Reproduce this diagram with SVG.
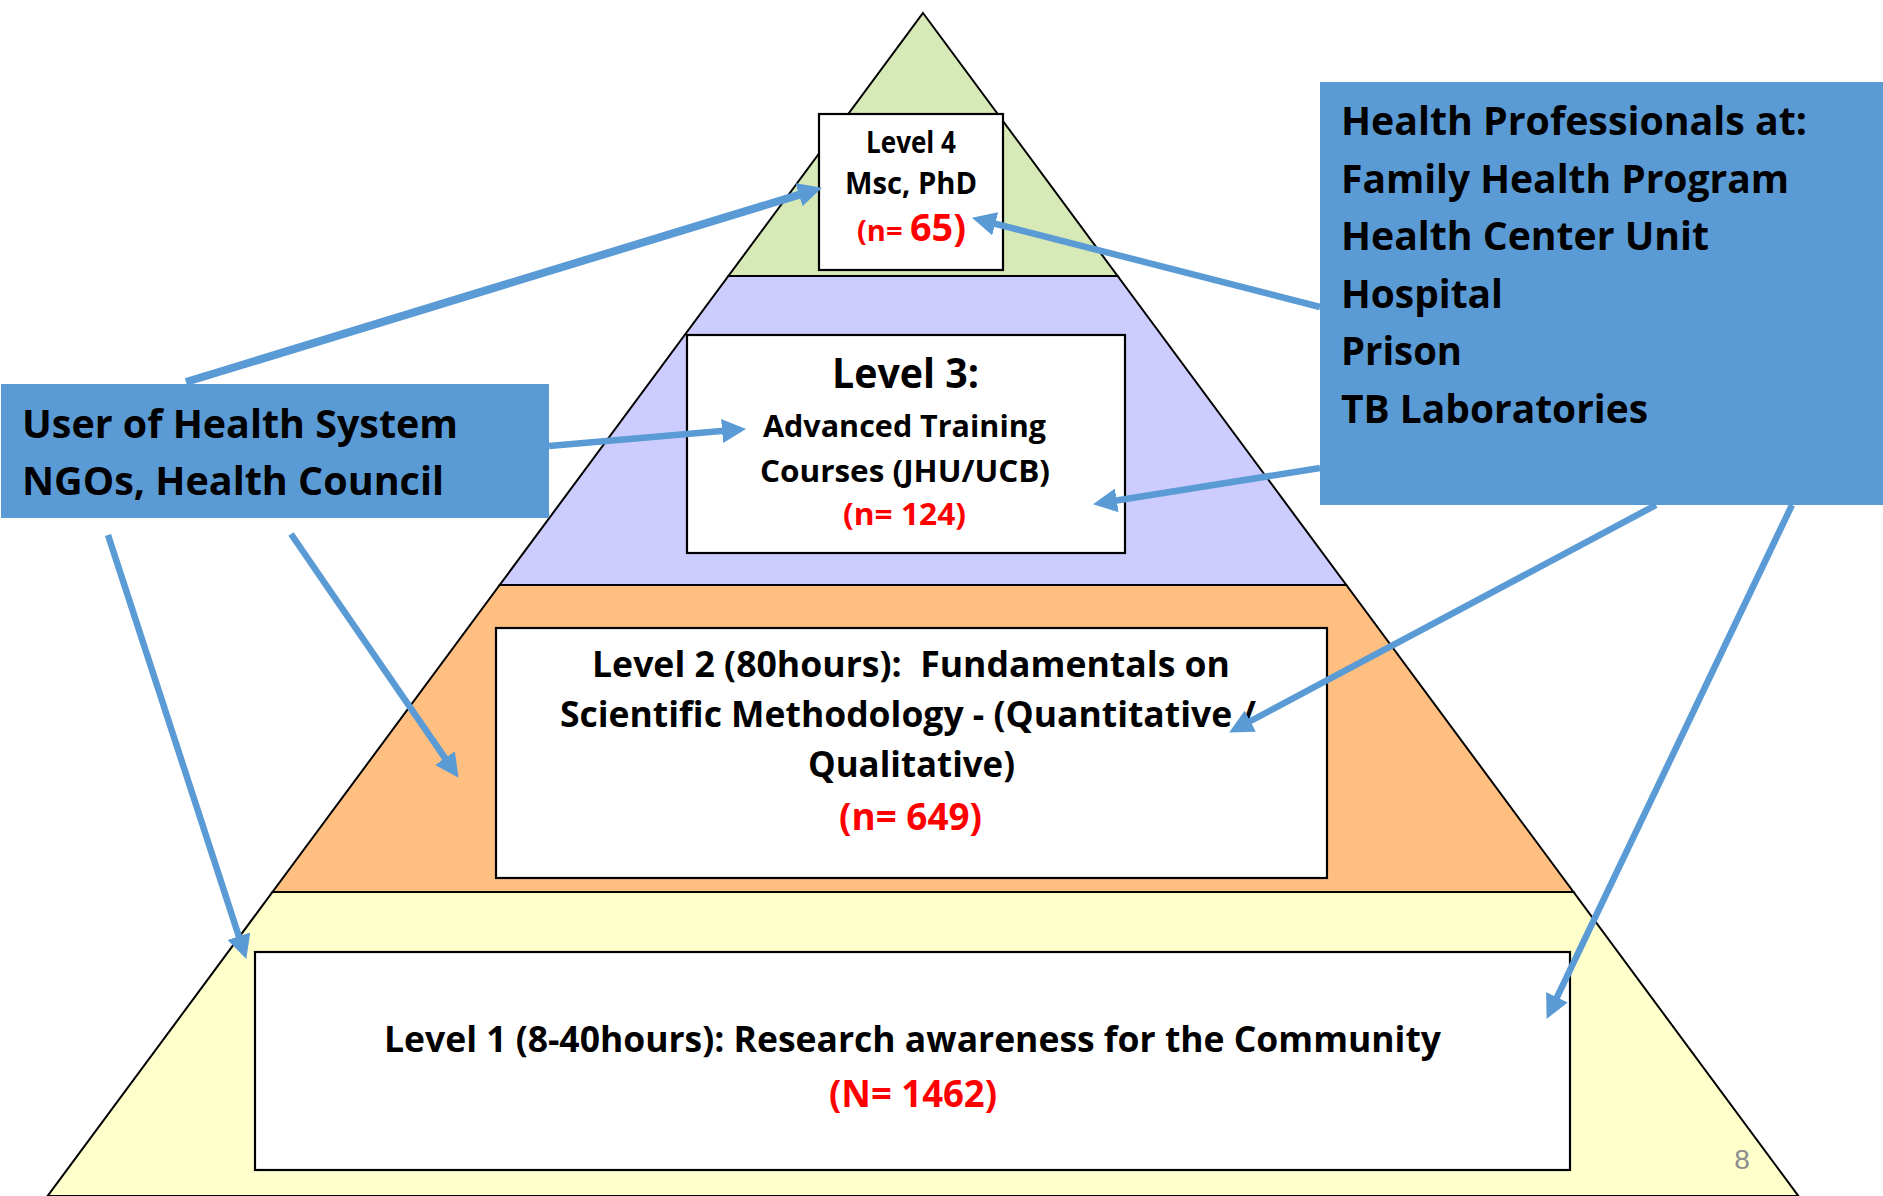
<svg xmlns="http://www.w3.org/2000/svg" width="1883" height="1196" viewBox="0 0 1883 1196">
<style>
  .band { stroke: #000; stroke-width: 2; stroke-linejoin: miter; }
  .box { fill: #fff; stroke: #000; stroke-width: 2.2; }
  .blue { fill: #5B9BD5; stroke: none; }
  .t { font-family: "Open Sans", Lato, "Liberation Sans", sans-serif; font-weight: bold; fill: #000; white-space: pre; }
  .red { fill: #FF0000; }
  .con { stroke: #5B9BD5; stroke-width: 6.5; fill: none; marker-end: url(#ah); }
  .pg { font-family: "Liberation Sans", Arial, sans-serif; fill: #8C8C8C; font-size: 28px; }
</style>
<defs>
  <marker id="ah" markerUnits="userSpaceOnUse" markerWidth="24" markerHeight="24" refX="5" refY="12" orient="auto">
    <path d="M0,0 L24,12 L0,24 z" fill="#5B9BD5"/>
  </marker>
</defs>
<rect x="0" y="0" width="1883" height="1196" fill="#fff"/>

<g id="pyramid">
  <polygon class="band" fill="#FFFFCC" points="272.5,892 1573.5,892 1798.4,1196 47.6,1196"/>
  <polygon class="band" fill="#FFBF80" points="499.7,585 1346.3,585 1573.5,892 272.5,892"/>
  <polygon class="band" fill="#CCCCFF" points="728.4,276 1117.6,276 1346.3,585 499.7,585"/>
  <polygon class="band" fill="#D7E9B6" points="923,13 1117.6,276 728.4,276"/>
</g>

<g id="level4">
  <rect class="box" x="819" y="114" width="184" height="156"/>
  <text class="t" x="866" y="153" font-size="30" textLength="90" lengthAdjust="spacingAndGlyphs">Level 4</text>
  <text class="t" x="845" y="194" font-size="31" textLength="132" lengthAdjust="spacingAndGlyphs">Msc, PhD</text>
  <text class="t red" y="241"><tspan x="857" font-size="29" textLength="53" lengthAdjust="spacingAndGlyphs">(n= </tspan><tspan x="910" font-size="37" textLength="56" lengthAdjust="spacingAndGlyphs">65)</tspan></text>
</g>

<g id="level3">
  <rect class="box" x="687" y="335" width="438" height="218"/>
  <text class="t" x="832" y="388" font-size="42" textLength="147" lengthAdjust="spacingAndGlyphs">Level 3:</text>
  <text class="t" x="763" y="437" font-size="30" textLength="283" lengthAdjust="spacingAndGlyphs">Advanced Training</text>
  <text class="t" x="760" y="482" font-size="30" textLength="290" lengthAdjust="spacingAndGlyphs">Courses (JHU/UCB)</text>
  <text class="t red" x="843" y="525" font-size="30" textLength="123" lengthAdjust="spacingAndGlyphs">(n= 124)</text>
</g>

<g id="level2">
  <rect class="box" x="496" y="628" width="831" height="250"/>
  <text class="t" x="592" y="677" font-size="36" textLength="638" lengthAdjust="spacingAndGlyphs">Level 2 (80hours):  Fundamentals on</text>
  <text class="t" x="560" y="727" font-size="36" textLength="696" lengthAdjust="spacingAndGlyphs">Scientific Methodology - (Quantitative /</text>
  <text class="t" x="808" y="777" font-size="36" textLength="207" lengthAdjust="spacingAndGlyphs">Qualitative)</text>
  <text class="t red" x="839" y="830" font-size="37" textLength="143" lengthAdjust="spacingAndGlyphs">(n= 649)</text>
</g>

<g id="level1">
  <rect class="box" x="255" y="952" width="1315" height="218"/>
  <text class="t" x="384" y="1052" font-size="36" textLength="1057" lengthAdjust="spacingAndGlyphs">Level 1 (8-40hours): Research awareness for the Community</text>
  <text class="t red" x="829" y="1107" font-size="37" textLength="168" lengthAdjust="spacingAndGlyphs">(N= 1462)</text>
</g>

<text class="pg" x="1742" y="1169" text-anchor="middle">8</text>

<g id="connectors">
  <line class="con" style="stroke-width:8" x1="186" y1="382" x2="803.8" y2="193.3"/>
  <line class="con" x1="549" y1="446" x2="727.1" y2="430.6"/>
  <line class="con" x1="108" y1="535" x2="240.4" y2="940.9"/>
  <line class="con" x1="291" y1="534" x2="447.8" y2="762.2"/>
  <line class="con" x1="1320" y1="307" x2="990.4" y2="222.5"/>
  <line class="con" x1="1320" y1="468" x2="1111.8" y2="501.2"/>
  <line class="con" x1="1656" y1="505" x2="1245.9" y2="723.5"/>
  <line class="con" x1="1792" y1="505" x2="1554.8" y2="1001.8"/>
</g>

<g id="users">
  <rect class="blue" x="1" y="384" width="548" height="134"/>
  <text class="t" x="22" y="438" font-size="40" textLength="436" lengthAdjust="spacingAndGlyphs">User of Health System</text>
  <text class="t" x="22" y="495" font-size="40" textLength="422" lengthAdjust="spacingAndGlyphs">NGOs, Health Council</text>
</g>

<g id="professionals">
  <rect class="blue" x="1320" y="82" width="563" height="423"/>
  <text class="t" x="1341" y="135" font-size="40" textLength="466" lengthAdjust="spacingAndGlyphs">Health Professionals at:</text>
  <text class="t" x="1341" y="193" font-size="40" textLength="448" lengthAdjust="spacingAndGlyphs">Family Health Program</text>
  <text class="t" x="1341" y="250" font-size="40" textLength="368" lengthAdjust="spacingAndGlyphs">Health Center Unit</text>
  <text class="t" x="1341" y="308" font-size="40" textLength="162" lengthAdjust="spacingAndGlyphs">Hospital</text>
  <text class="t" x="1341" y="365" font-size="40" textLength="121" lengthAdjust="spacingAndGlyphs">Prison</text>
  <text class="t" x="1341" y="423" font-size="40" textLength="307" lengthAdjust="spacingAndGlyphs">TB Laboratories</text>
</g>
</svg>
